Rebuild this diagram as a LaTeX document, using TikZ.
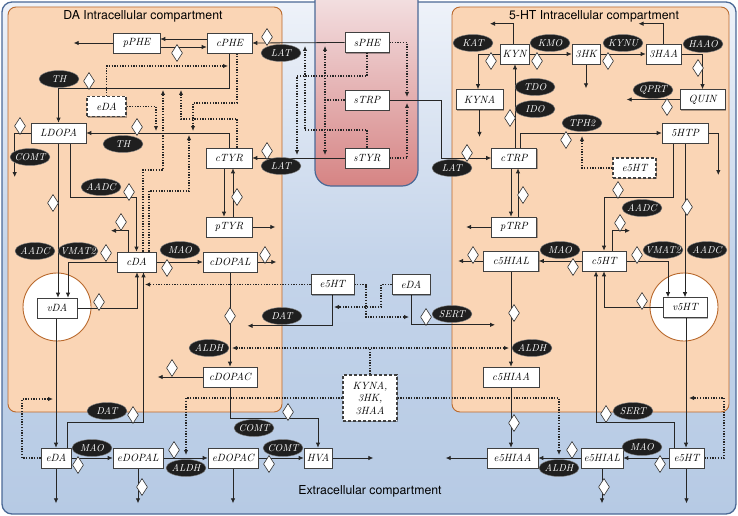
\documentclass[tikz,border=0pt]{standalone}
\usepackage{fontspec}
\newfontfamily\ttlfont{TeX Gyre Heros}
\usetikzlibrary{arrows.meta,shapes.geometric,shadows,calc}
\definecolor{outerb}{RGB}{75,105,150}
\definecolor{peach}{RGB}{250,213,181}
\definecolor{brownb}{RGB}{185,105,45}
\definecolor{bluetop}{RGB}{238,242,249}
\definecolor{bluemid}{RGB}{196,212,234}
\definecolor{bluebot}{RGB}{182,202,228}
\definecolor{redtop}{RGB}{247,236,238}
\definecolor{redbot}{RGB}{214,132,132}
\pgfdeclarelayer{bg}
\pgfdeclarelayer{lines}
\pgfsetlayers{bg,lines,main}
\pgfdeclareradialshading{vesicle}{\pgfpoint{0bp}{0bp}}{color(0bp)=(white); color(34bp)=(white); color(50bp)=(black!14)}
\newcommand{\enzy}[4]{\node[enz] (#1) at (#2,#3) {\makebox[0pt]{#4}};}
\newcommand{\dmd}[3]{\node[diam] (#1) at (#2,#3) {};}
\begin{document}
\begin{tikzpicture}[x=1pt,y=-1pt,
  box/.style={draw=black!75, fill=white, line width=0.6pt, minimum height=20pt, inner sep=1pt,
    font=\itshape\fontsize{10.5}{11}\selectfont,
    drop shadow={shadow xshift=1.3pt, shadow yshift=-1.3pt, opacity=0.3, fill=black}},
  dbox/.style={box, dash pattern=on 3pt off 2pt, line width=1.1pt},
  enz/.style={ellipse, fill=black!88, draw=black!50, line width=0.4pt, text=white, minimum width=40pt,
    minimum height=17pt, inner sep=0pt, font=\itshape\fontsize{10}{11}\selectfont},
  diam/.style={diamond, draw=black!80, fill=white, line width=0.6pt, minimum width=11pt,
    minimum height=17pt, inner sep=0pt},
  arr/.style={draw=black!85, line width=0.8pt, -{Latex[length=5pt,width=4.5pt]}},
  darr/.style={draw=black!85, line width=1.3pt, dash pattern=on 1.3pt off 1.4pt, -{Latex[length=5pt,width=4.5pt]}},
  ttl/.style={font=\ttlfont\fontsize{12.3}{14}\selectfont, inner sep=0pt}
]
\useasboundingbox (0,0) rectangle (738,516);

\begin{pgfonlayer}{bg}
  \path[draw=outerb, line width=1.3pt, rounded corners=10pt, top color=bluetop, bottom color=bluebot, middle color=bluemid]
    (2,2) rectangle (736,514);
  \path[draw=outerb, line width=1.2pt, rounded corners=16pt, top color=redtop, bottom color=redbot]
    (315,-30) rectangle (418,186);
  \path[draw=brownb, line width=0.9pt, fill=peach, rounded corners=8pt] (8,7) rectangle (282,412);
  \path[draw=brownb, line width=0.9pt, fill=peach, rounded corners=8pt] (452,7) rectangle (729,412);
  \path[draw=brownb, line width=0.9pt, shading=vesicle] (57,307) circle[radius=34pt];
  \path[draw=brownb, line width=0.9pt, shading=vesicle] (684,307) circle[radius=34pt];
\end{pgfonlayer}

\node[ttl] (t1) at (143,16) {DA Intracellular compartment};
\node[ttl] (t2) at (594,16) {5-HT Intracellular compartment};
\node[ttl] (t3) at (370,491) {Extracellular compartment};

% boxes
\node[box, minimum width=47pt] (pPHE) at (136.5,43) {pPHE};
\node[box, minimum width=45pt] (cPHE) at (229.5,43) {cPHE};
\node[box, minimum width=44pt] (sPHE) at (367,42.5) {sPHE};
\node[box, minimum width=44pt] (sTRP) at (367,100) {sTRP};
\node[box, minimum width=44pt] (sTYR) at (367,158) {sTYR};
\node[dbox, minimum width=39pt] (eDAi) at (106.5,106.5) {eDA};
\node[box, minimum width=55pt] (LDOPA) at (58.5,133) {LDOPA};
\node[box, minimum width=46pt] (cTYR) at (229,158) {cTYR};
\node[box, minimum width=46pt] (pTYR) at (229,227) {pTYR};
\node[box, minimum width=39pt] (cDA) at (136.5,262) {cDA};
\node[box, minimum width=54pt] (cDOPAL) at (230,262) {cDOPAL};
\node[box, minimum width=40pt] (vDA) at (57,308) {vDA};
\node[box, minimum width=54pt] (cDOPAC) at (230,377) {cDOPAC};
\node[box, minimum width=43pt] (e5HTx) at (332.5,284.5) {e5HT};
\node[box, minimum width=38pt] (eDAx) at (411,284.5) {eDA};
\node[box, minimum width=30pt] (eDA) at (56,458) {eDA};
\node[box, minimum width=50pt] (eDOPAL) at (138,458) {eDOPAL};
\node[box, minimum width=50pt] (eDOPAC) at (233,458) {eDOPAC};
\node[box, minimum width=28pt] (HVA) at (318,458) {HVA};
\node[dbox, minimum width=54pt, minimum height=46pt, align=center, font=\itshape\fontsize{10.5}{12.5}\selectfont] (KYNmix) at (370,398) {KYNA,\\3HK,\\3HAA};
\node[box, minimum width=29pt] (KYN) at (514.5,54) {KYN};
\node[box, minimum width=28pt] (n3HK) at (586,54) {3HK};
\node[box, minimum width=35pt] (n3HAA) at (663.5,54) {3HAA};
\node[box, minimum width=47pt] (KYNA) at (479.5,99.5) {KYNA};
\node[box, minimum width=45pt] (QUIN) at (702.5,99.5) {QUIN};
\node[box, minimum width=45pt] (cTRP) at (514,158) {cTRP};
\node[box, minimum width=46pt] (n5HTP) at (685,133) {5HTP};
\node[dbox, minimum width=43pt] (e5HTi) at (634.5,168) {e5HT};
\node[box, minimum width=45pt] (pTRP) at (514,227) {pTRP};
\node[box, minimum width=55pt] (c5HIAL) at (511,261) {c5HIAL};
\node[box, minimum width=44pt] (c5HT) at (604,261) {c5HT};
\node[box, minimum width=44pt] (v5HT) at (685,307.5) {v5HT};
\node[box, minimum width=56pt] (c5HIAA) at (511,377) {c5HIAA};
\node[box, minimum width=51pt] (e5HIAA) at (512.5,458) {e5HIAA};
\node[box, minimum width=42pt] (e5HIAL) at (602,458) {e5HIAL};
\node[box, minimum width=35pt] (e5HT) at (686.5,458) {e5HT};

% enzymes
\enzy{TH1}{59}{79}{TH}
\enzy{TH2}{123}{144}{TH}
\enzy{COMT1}{30}{157}{COMT}
\enzy{AADC1}{101}{187}{AADC}
\enzy{AADC2}{35}{251}{AADC}
\enzy{VMATa}{78}{251}{VMAT2}
\enzy{MAO1}{180}{250}{MAO}
\enzy{LAT1}{281}{53}{LAT}
\enzy{LAT2}{281}{166}{LAT}
\enzy{ALDH1}{209}{348}{ALDH}
\enzy{DAT1}{282}{316}{DAT}
\enzy{DAT2}{107}{411}{DAT}
\enzy{COMT2}{254}{428}{COMT}
\enzy{MAO2}{92}{448}{MAO}
\enzy{ALDH2}{186}{468}{ALDH}
\enzy{COMT3}{283}{448}{COMT}
\enzy{KAT}{473}{43}{KAT}
\enzy{KMO}{550}{43}{KMO}
\enzy{KYNU}{623}{43}{KYNU}
\enzy{HAAO}{703}{44}{HAAO}
\enzy{TDO}{535}{87}{TDO}
\enzy{IDO}{535}{109}{IDO}
\enzy{QPRT}{653}{90}{QPRT}
\enzy{TPH}{582}{123}{TPH2}
\enzy{LAT3}{452}{168}{LAT}
\enzy{AADC3}{642}{208}{AADC}
\enzy{AADC4}{707}{250}{AADC}
\enzy{VMATb}{663}{250}{VMAT2}
\enzy{MAO3}{560}{250}{MAO}
\enzy{SERT1}{452}{314}{SERT}
\enzy{ALDH3}{532}{348}{ALDH}
\enzy{SERT2}{633}{411}{SERT}
\enzy{MAO4}{642}{447}{MAO}
\enzy{ALDH4}{559}{468}{ALDH}

% diamonds
\dmd{d1}{177}{53}
\dmd{d2}{267}{37}
\dmd{d3}{89}{81}
\dmd{d4}{137}{127}
\dmd{d5}{20}{126}
\dmd{d6}{267}{151}
\dmd{d7}{237}{197}
\dmd{d8}{53}{203}
\dmd{d9}{129}{192}
\dmd{d10}{121}{222}
\dmd{d11}{106}{253}
\dmd{d12}{167}{268}
\dmd{d13}{265}{255}
\dmd{d14}{99}{302}
\dmd{d15}{230}{316}
\dmd{d16}{172}{368}
\dmd{d17}{133}{415}
\dmd{d18}{288}{412}
\dmd{d19}{78}{465}
\dmd{d20}{142}{487}
\dmd{d21}{174}{450}
\dmd{d22}{269}{464}
\dmd{d23}{426}{317}
\dmd{d24}{491}{61}
\dmd{d25}{537}{61}
\dmd{d26}{608}{61}
\dmd{d27}{698}{68}
\dmd{d28}{667}{107}
\dmd{d29}{510}{118}
\dmd{d30}{467}{153}
\dmd{d31}{566}{140}
\dmd{d32}{618}{190}
\dmd{d33}{687}{207}
\dmd{d34}{620}{223}
\dmd{d35}{637}{255}
\dmd{d36}{573}{267}
\dmd{d37}{473}{255}
\dmd{d38}{523}{195}
\dmd{d39}{514}{313}
\dmd{d40}{642}{301}
\dmd{d41}{606}{414}
\dmd{d42}{514}{423}
\dmd{d43}{660}{464}
\dmd{d44}{604}{487}
\dmd{d45}{572}{450}

\begin{pgfonlayer}{lines}
% DA side
\draw[arr] (pPHE.west) -- ++(-39,0);
\draw[arr] ([yshift=4pt]cPHE.west) -- ([yshift=4pt]pPHE.east);
\draw[arr] ([yshift=-4pt]pPHE.east) -- ([yshift=-4pt]cPHE.west);
\draw[arr] (sPHE.west) -- (cPHE.east);
\draw[arr] (cPHE.south) -- ++(0,35) -| (LDOPA.north);
\draw[arr] (cTYR.north) |- (LDOPA.east);
\draw[arr] (sTYR.west) -- (cTYR.east);
\draw[arr] ([xshift=-5pt]cTYR.south) -- ([xshift=-5pt]pTYR.north);
\draw[arr] ([xshift=4pt]pTYR.north) -- ([xshift=4pt]cTYR.south);
\draw[arr] (pTYR.east) -- ++(23,0);
\draw[arr] (LDOPA.west) -| ++(-16,44);
\draw[arr] (LDOPA.south -| 58,0) -- (vDA.north -| 58,0);
\draw[arr] (LDOPA.south -| 70,0) -- (70,197) -| (cDA.north);
\draw[arr] (cDA.north -| 128,0) |- ++(-17,-21);
\draw[arr] (cDA.west) -| (vDA.north -| 68,0);
\draw[arr] (vDA.east) -| (cDA.south -| 137,0);
\draw[arr] (vDA.south -| 56,0) -- (eDA.north -| 56,0);
\draw[arr] (eDA.north -| 67,0) -- (67,422) -| (cDA.south -| 143.5,0);
\draw[arr] (cDA.east) -- (cDOPAL.west);
\draw[arr] (cDOPAL.east) -- ++(19,0);
\draw[arr] (cDOPAL.south) -- (cDOPAC.north);
\draw[arr] (cDOPAC.west) -- ++(-45,0);
\draw[arr] (cDOPAC.south) -- (230,418) -| (HVA.north);
\draw[arr] (eDA.east) -- (eDOPAL.west);
\draw[arr] (eDA.south) -- ++(0,35);
\draw[arr] (eDOPAL.south) -- ++(0,35);
\draw[arr] (eDOPAL.east) -- (eDOPAC.west);
\draw[arr] (eDOPAC.south) -- ++(0,35);
\draw[arr] (eDOPAC.east) -- (HVA.west);
\draw[arr] (HVA.east) -- ++(41,0);
\draw[arr] (e5HTx.south) |- ++(-85,31);
\draw[arr] (eDAx.south) |- ++(84,30);
% dotted DA side
\draw[darr] (eDAi.north) |- (228,66);
\draw[darr] (eDAi.east) -| (156,131);
\draw[darr] (cPHE.south -| 237,0) -- (237,103) -| (193,131);
\draw[darr] (cTYR.north -| 237,0) -- (237,119) -| (181,90);
\draw[darr] (cDA.north -| 143,0) -- (143,170) -| (163,90);
\draw[darr] (cDA.north -| 149,0) -- (149,191) -| (189,135);
\draw[darr] (sPHE.east) -| (407,97);
\draw[darr] (sTYR.east) -| (407,103);
\draw[darr] (sPHE.south) -- (367,76) -| (297,155);
\draw[darr] (sTYR.north) -- (367,130) -| (305,46);
\draw[darr] (sTRP.west) -- (325,100) -- (325,46);
\draw[darr] (sTRP.west) -- (325,100) -- (325,155);
\draw[darr] (e5HTx.west) -- (145,284.5);
\draw[darr] (e5HTx.east) -- (366,284.5) |- (409,317);
\draw[darr] (eDAx.west) -- (381,284.5) |- (334,307);
\draw[darr] (KYNmix.north) -- (370,348) -- (232,348);
\draw[darr] (KYNmix.north) -- (370,348) -- (509,348);
\draw[darr] (KYNmix.west) -| (186,455);
\draw[darr] (KYNmix.east) -| (559,455);
\draw[darr] (eDA.west) -- (22,458) |- (53,399);
\draw[darr] (e5HT.east) -- (724,458) |- (689,398);
\draw[darr] (e5HTi.west) -| (582,136);
% 5-HT side
\draw[arr] (sTRP.east) -- (441,100) |- (cTRP.west);
\draw[arr] (cTRP.north -| 515,0) -- (KYN.south -| 515,0);
\draw[arr] (KYN.west) -| (KYNA.north -| 478,0);
\draw[arr] (KYNA.south) -- ++(0,27);
\draw[arr] (KYN.north -| 513,0) |- ++(-23,-20);
\draw[arr] (KYN.east) -- (n3HK.west);
\draw[arr] (n3HK.south) -- ++(0,24);
\draw[arr] (n3HK.east) -- (n3HAA.west);
\draw[arr] (n3HAA.north) |- ++(-25,-20);
\draw[arr] (n3HAA.east) -| (QUIN.north);
\draw[arr] (QUIN.west) -- ++(-53,0);
\draw[arr] (cTRP.north -| 520,0) |- (n5HTP.west);
\draw[arr] (n5HTP.east) -| ++(10,42);
\draw[arr] (n5HTP.south -| 673,0) -- (673,197) -| (c5HT.north);
\draw[arr] (n5HTP.south -| 685,0) -- (v5HT.north -| 685,0);
\draw[arr] (c5HT.north -| 612,0) |- ++(18,-20);
\draw[arr] (c5HT.east) -| (v5HT.north -| 668,0);
\draw[arr] (v5HT.west) -| (c5HT.south -| 604,0);
\draw[arr] (e5HT.north -| 674,0) -- (674,422) -| (c5HT.south -| 596,0);
\draw[arr] (v5HT.south -| 686,0) -- (e5HT.north -| 686,0);
\draw[arr] (c5HT.west) -- (c5HIAL.east);
\draw[arr] (c5HIAL.west) -- ++(-25,0);
\draw[arr] (c5HIAL.south) -- (c5HIAA.north);
\draw[arr] (c5HIAA.south) -- (c5HIAA.south |- e5HIAA.north);
\draw[arr] (cTRP.south -| 511,0) -- (pTRP.north -| 511,0);
\draw[arr] (pTRP.north -| 518,0) -- (cTRP.south -| 518,0);
\draw[arr] (pTRP.west) -- ++(-25,0);
\draw[arr] (e5HT.west) -- (e5HIAL.east);
\draw[arr] (e5HT.south) -- ++(0,35);
\draw[arr] (e5HIAL.south) -- ++(0,35);
\draw[arr] (e5HIAL.west) -- (e5HIAA.east);
\draw[arr] (e5HIAA.west) -- ++(-41,0);
\end{pgfonlayer}
\end{tikzpicture}
\end{document}
